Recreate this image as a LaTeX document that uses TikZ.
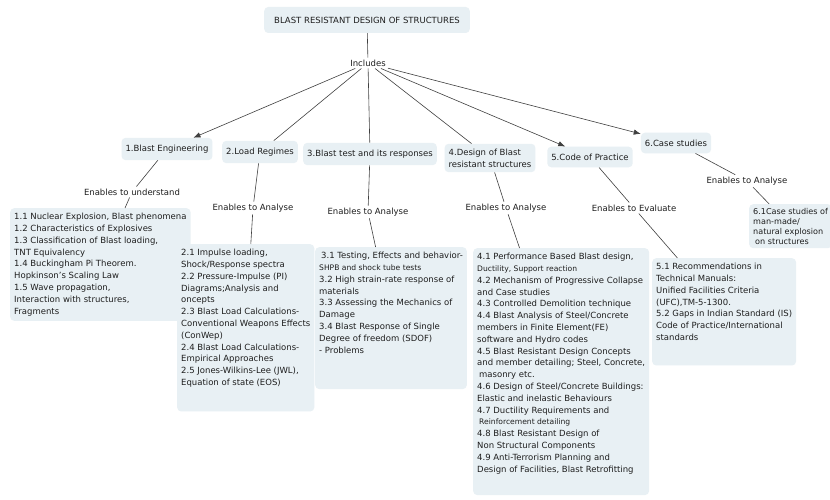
\documentclass[tikz,border=0pt]{standalone}
\usepackage{fontspec}
\setmainfont{DejaVu Sans}
\usetikzlibrary{arrows.meta,positioning}
\definecolor{cmapfill}{HTML}{E8F0F4}
\definecolor{cmaptext}{HTML}{1E1E1E}
\newcommand{\smline}[1]{{\fontsize{7.6}{11.8}\selectfont #1}}

\begin{document}
\begin{tikzpicture}[x=1pt,y=-1pt,>={Latex[length=7pt,width=5.5pt]},font=\fontsize{8.5}{11.8}\selectfont,text=cmaptext]
  \tikzstyle{concept}=[fill=cmapfill,rounded corners=4pt,inner xsep=4pt,inner ysep=7pt,align=left]
  \tikzstyle{topic}=[concept,inner ysep=5pt,anchor=north west]
  \tikzstyle{phrase}=[inner sep=2pt]
  \tikzstyle{link}=[black!75,line width=0.6pt]
  \useasboundingbox (0,0) rectangle (830,500);
  \clip (0,0) rectangle (830,500);
  \fill[white] (0,0) rectangle (830,500);
  % root and first level
  \node[concept,inner xsep=10pt,minimum height=26pt] (title) at (367,20) {BLAST RESISTANT DESIGN OF STRUCTURES};
  \node[phrase] (inc) at (368,63) {Includes};
  \node[concept] (eng) at (167,149) {1.Blast Engineering};
  \node[concept] (load) at (260,152) {2.Load Regimes};
  \node[concept] (test) at (370,154) {3.Blast test and its responses};
  \node[concept,inner ysep=5pt] (des) at (490,158) {4.Design of Blast\\resistant structures};
  \node[concept] (code) at (590,157) {5.Code of Practice};
  \node[concept] (case) at (676,143) {6.Case studies};
  % linking phrases
  \node[phrase] (und) at (132,192) {Enables to understand};
  \node[phrase] (anlload) at (253,208) {Enables to Analyse};
  \node[phrase] (anltest) at (368,212) {Enables to Analyse};
  \node[phrase] (anldes) at (506,208) {Enables to Analyse};
  \node[phrase] (eval) at (634,208) {Enables to Evaluate};
  \node[phrase] (anlcase) at (747,181) {Enables to Analyse};
  % topic boxes
  \node[topic] (engtopics) at (10,208) {1.1 Nuclear Explosion, Blast phenomena\\
    1.2 Characteristics of Explosives\\
    1.3 Classification of Blast loading,\\
    TNT Equivalency\\
    1.4 Buckingham Pi Theorem.\\
    Hopkinson’s Scaling Law\\
    1.5 Wave propagation,\\
    Interaction with structures,\\
    Fragments};
  \node[topic,text depth=21pt] (loadtopics) at (177,244) {2.1 Impulse loading,\\
    Shock/Response spectra\\
    2.2 Pressure-Impulse (PI)\\
    Diagrams;Analysis and\\
    oncepts\\
    2.3 Blast Load Calculations-\\
    Conventional Weapons Effects\\
    (ConWep)\\
    2.4 Blast Load Calculations-\\
    Empirical Approaches\\
    2.5 Jones-Wilkins-Lee (JWL),\\
    Equation of state (EOS)};
  \node[topic,text depth=31pt] (testtopics) at (315,247) {\hspace*{2pt}3.1 Testing, Effects and behavior-\\
    \smline{SHPB and shock tube tests}\\
    3.2 High strain-rate response of\\
    materials\\
    3.3 Assessing the Mechanics of\\
    Damage\\
    3.4 Blast Response of Single\\
    Degree of freedom (SDOF)\\
    - Problems};
  \node[topic,text depth=18pt] (destopics) at (473,248) {4.1 Performance Based Blast design,\\
    \smline{Ductility, Support reaction}\\
    4.2 Mechanism of Progressive Collapse\\
    and Case studies\\
    4.3 Controlled Demolition technique\\
    4.4 Blast Analysis of Steel/Concrete\\
    members in Finite Element(FE)\\
    software and Hydro codes\\
    4.5 Blast Resistant Design Concepts\\
    and member detailing; Steel, Concrete,\\
    \hspace*{2pt}masonry etc.\\
    4.6 Design of Steel/Concrete Buildings:\\
    Elastic and inelastic Behaviours\\
    4.7 Ductility Requirements and\\
    \hspace*{2pt}\smline{Reinforcement detailing}\\
    4.8 Blast Resistant Design of\\
    Non Structural Components\\
    4.9 Anti-Terrorism Planning and\\
    Design of Facilities, Blast Retrofitting};
  \node[topic,text depth=20pt] (codetopics) at (652,258) {5.1 Recommendations in\\
    Technical Manuals:\\
    Unified Facilities Criteria\\
    (UFC),TM-5-1300.\\
    5.2 Gaps in Indian Standard (IS)\\
    Code of Practice/International\\
    standards};
  \node[topic,inner ysep=4pt,font=\fontsize{8.1}{9.9}\selectfont] (casetopics) at (749,204) {6.1Case studies of\\
    man-made/\\
    natural explosion\\
    \hspace*{2pt}on structures};
  % connectors
  \draw[link] (title) -- (inc);
  \draw[link,->] (inc) -- (eng);
  \draw[link] (inc) -- (load);
  \draw[link] (inc) -- (test);
  \draw[link] (inc) -- (des);
  \draw[link,->] (inc) -- (code);
  \draw[link,->] (inc) -- (case);
  \draw[link] (eng) -- (und);
  \draw[link] (und) -- (engtopics);
  \draw[link] (load) -- (anlload);
  \draw[link] (anlload) -- (loadtopics);
  \draw[link] (test) -- (anltest);
  \draw[link] (anltest) -- (testtopics);
  \draw[link] (des) -- (anldes);
  \draw[link] (anldes) -- (destopics);
  \draw[link] (code) -- (eval);
  \draw[link] (eval) -- (codetopics);
  \draw[link] (case) -- (anlcase);
  \draw[link] (anlcase) -- (casetopics);
\end{tikzpicture}
\end{document}
